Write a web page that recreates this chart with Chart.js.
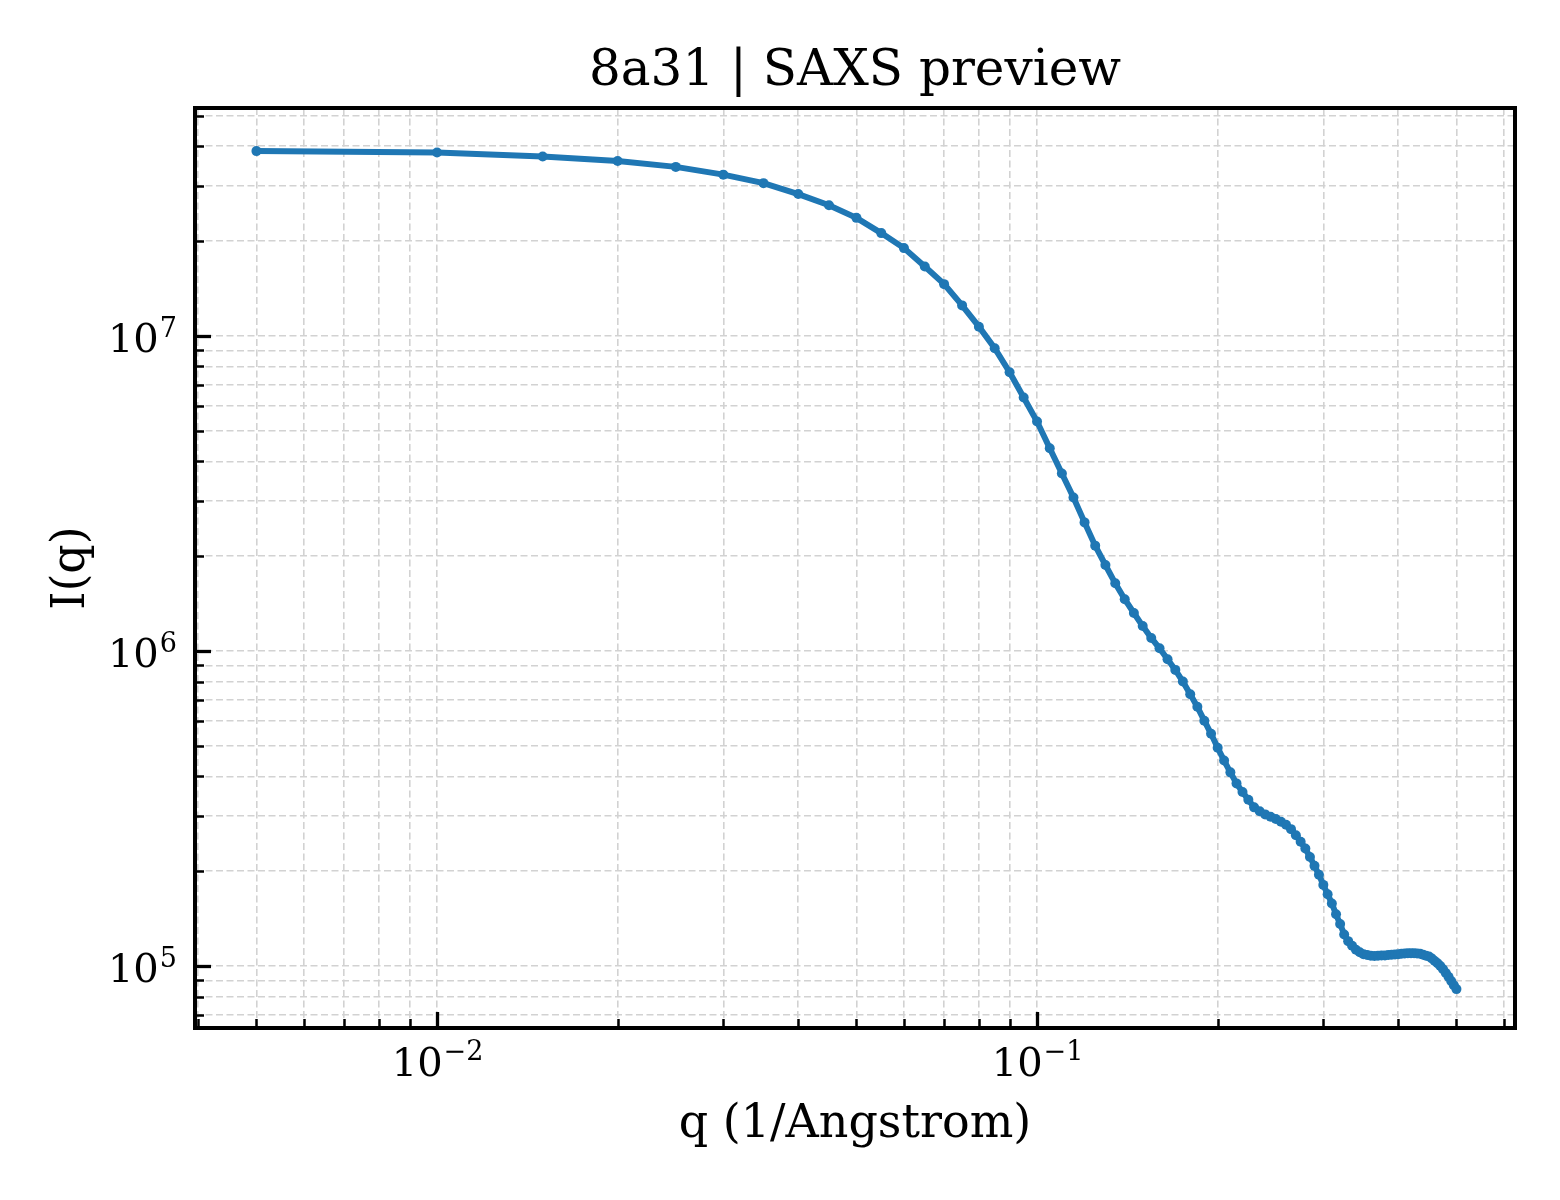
<!DOCTYPE html>
<html>
<head>
<meta charset="utf-8">
<script src="https://cdn.jsdelivr.net/npm/chart.js@4.4.0/dist/chart.umd.min.js"></script>
<style>
  html, body { margin: 0; padding: 0; background: #ffffff; }
  #wrap { width: 1560px; height: 1200px; }
</style>
</head>
<body>
<div id="wrap"><canvas id="c" width="1560" height="1200"></canvas></div>
<script>
// ---- data ----
const qValues = [
  0.005, 0.010, 0.015, 0.020, 0.025, 0.030, 0.035, 0.040, 0.045, 0.050,
  0.055, 0.060, 0.065, 0.070, 0.075, 0.080, 0.085, 0.090, 0.095, 0.100,
  0.105, 0.110, 0.115, 0.120, 0.125, 0.130, 0.135, 0.140, 0.145, 0.150,
  0.155, 0.160, 0.165, 0.170, 0.175, 0.180, 0.185, 0.190, 0.195, 0.200,
  0.205, 0.210, 0.215, 0.220, 0.225, 0.230, 0.235, 0.240, 0.245, 0.250,
  0.255, 0.260, 0.265, 0.270, 0.275, 0.280, 0.285, 0.290, 0.295, 0.300,
  0.305, 0.310, 0.315, 0.320, 0.325, 0.330, 0.335, 0.340, 0.345, 0.350,
  0.355, 0.360, 0.365, 0.370, 0.375, 0.380, 0.385, 0.390, 0.395, 0.400,
  0.405, 0.410, 0.415, 0.420, 0.425, 0.430, 0.435, 0.440, 0.445, 0.450,
  0.455, 0.460, 0.465, 0.470, 0.475, 0.480, 0.485, 0.490, 0.495, 0.500
];
const intensity = [
  3.86e7, 3.82e7, 3.71e7, 3.59e7, 3.44e7, 3.25e7, 3.055e7, 2.82e7, 2.60e7, 2.37e7,
  2.12e7, 1.90e7, 1.66e7, 1.46e7, 1.25e7, 1.07e7, 9.14e6, 7.67e6, 6.38e6, 5.35e6,
  4.40e6, 3.66e6, 3.07e6, 2.56e6, 2.16e6, 1.875e6, 1.64e6, 1.46e6, 1.32e6, 1.20e6,
  1.10e6, 1.02e6, 9.42e5, 8.71e5, 8.00e5, 7.29e5, 6.65e5, 6.01e5, 5.46e5, 4.93e5,
  4.49e5, 4.12e5, 3.80e5, 3.57e5, 3.37e5, 3.19e5, 3.10e5, 3.03e5, 2.98e5, 2.93e5,
  2.87e5, 2.81e5, 2.72e5, 2.60e5, 2.48e5, 2.36e5, 2.22e5, 2.08e5, 1.95e5, 1.81e5,
  1.69e5, 1.58e5, 1.46e5, 1.36e5, 1.26e5, 1.20e5, 1.16e5, 1.127e5, 1.107e5, 1.091e5,
  1.084e5, 1.079e5, 1.076e5, 1.079e5, 1.081e5, 1.081e5, 1.084e5, 1.086e5, 1.089e5, 1.091e5,
  1.094e5, 1.096e5, 1.099e5, 1.099e5, 1.099e5, 1.096e5, 1.094e5, 1.086e5, 1.079e5, 1.072e5,
  1.057e5, 1.038e5, 1.021e5, 1.000e5, 9.77e4, 9.51e4, 9.25e4, 8.97e4, 8.69e4, 8.45e4
];
const xMajorTicks = [0.01, 0.1];
const xMajorExponents = ['\u22122', '\u22121'];
const xMinorTicks = [0.004, 0.005, 0.006, 0.007, 0.008, 0.009,
                     0.02, 0.03, 0.04, 0.05, 0.06, 0.07, 0.08, 0.09,
                     0.2, 0.3, 0.4, 0.5, 0.6];
const yMajorTicks = [1e5, 1e6, 1e7];
const yMajorExponents = ['5', '6', '7'];
const yMinorTicks = [7e4, 8e4, 9e4,
                     2e5, 3e5, 4e5, 5e5, 6e5, 7e5, 8e5, 9e5,
                     2e6, 3e6, 4e6, 5e6, 6e6, 7e6, 8e6, 9e6,
                     2e7, 3e7, 4e7, 5e7];
const xRange = [0.00395, 0.626];
const yRange = [6.36e4, 5.29e7];
const titleText = '8a31 | SAXS preview';
const xTitle = 'q (1/Angstrom)';
const yTitle = 'I(q)';

// ---- styling ----
const FONT = '"DejaVu Serif", "Liberation Serif", serif';
const GRID_COLOR = '#d2d2d2';

const allX = xMinorTicks.concat(xMajorTicks).sort((a, b) => a - b);
const allY = yMinorTicks.concat(yMajorTicks).sort((a, b) => a - b);

const decorPlugin = {
  id: 'decor',
  afterDraw(chart) {
    const ctx = chart.ctx;
    const a = chart.chartArea;
    const xs = chart.scales.x, ys = chart.scales.y;
    ctx.save();
    ctx.strokeStyle = '#000';
    ctx.fillStyle = '#000';
    ctx.lineCap = 'butt';

    // inward ticks, left axis
    allY.forEach(v => {
      const y = Math.round(ys.getPixelForValue(v)) + 0.5;
      const major = yMajorTicks.includes(v);
      ctx.lineWidth = major ? 3.3 : 2.5;
      ctx.beginPath();
      ctx.moveTo(a.left, y);
      ctx.lineTo(a.left + (major ? 16 : 9), y);
      ctx.stroke();
    });
    // inward ticks, bottom axis
    allX.forEach(v => {
      const x = Math.round(xs.getPixelForValue(v)) + 0.5;
      const major = xMajorTicks.includes(v);
      ctx.lineWidth = major ? 3.3 : 2.5;
      ctx.beginPath();
      ctx.moveTo(x, a.bottom);
      ctx.lineTo(x, a.bottom - (major ? 16 : 9));
      ctx.stroke();
    });

    // frame
    ctx.lineWidth = 4;
    ctx.strokeRect(a.left, a.top, a.right - a.left, a.bottom - a.top);

    // tick labels
    const baseFont = '40px ' + FONT;
    const expFont = '27px ' + FONT;
    ctx.textBaseline = 'alphabetic';
    xMajorTicks.forEach((v, i) => {
      const x = xs.getPixelForValue(v);
      ctx.font = baseFont; const w1 = ctx.measureText('10').width;
      ctx.font = expFont; const w2 = ctx.measureText(xMajorExponents[i]).width;
      const left = x - (w1 + w2) / 2;
      ctx.textAlign = 'left';
      ctx.font = baseFont; ctx.fillText('10', left, a.bottom + 48);
      ctx.font = expFont; ctx.fillText(xMajorExponents[i], left + w1 + 1, a.bottom + 32);
    });
    yMajorTicks.forEach((v, i) => {
      const y = ys.getPixelForValue(v);
      ctx.font = expFont; const w2 = ctx.measureText(yMajorExponents[i]).width;
      ctx.font = baseFont; const w1 = ctx.measureText('10').width;
      const right = a.left - 18;
      ctx.textAlign = 'left';
      ctx.font = baseFont; ctx.fillText('10', right - w2 - w1 - 1, y + 16);
      ctx.font = expFont; ctx.fillText(yMajorExponents[i], right - w2, y + 1);
    });

    // axis titles
    ctx.font = '46px ' + FONT;
    ctx.textAlign = 'center';
    ctx.fillText(xTitle, (a.left + a.right) / 2, 1137);
    ctx.save();
    ctx.translate(84, (a.top + a.bottom) / 2);
    ctx.rotate(-Math.PI / 2);
    ctx.fillText(yTitle, 0, 0);
    ctx.restore();

    // title
    ctx.font = '50px ' + FONT;
    ctx.fillText(titleText, (a.left + a.right) / 2, 85);
    ctx.restore();
  }
};

new Chart(document.getElementById('c'), {
  type: 'line',
  data: {
    datasets: [{
      data: qValues.map((q, i) => ({ x: q, y: intensity[i] })),
      borderColor: '#1f77b4',
      backgroundColor: '#1f77b4',
      borderWidth: 6,
      pointRadius: 5,
      pointBorderWidth: 0,
      pointBackgroundColor: '#1f77b4',
      tension: 0,
      fill: false
    }]
  },
  options: {
    responsive: false,
    animation: false,
    devicePixelRatio: 1,
    layout: { padding: { left: 0, top: 108, right: 45, bottom: 0 } },
    plugins: { legend: { display: false }, title: { display: false }, tooltip: { enabled: false } },
    scales: {
      x: {
        type: 'logarithmic',
        position: 'bottom',
        min: xRange[0], max: xRange[1],
        afterBuildTicks: s => { s.ticks = allX.map(v => ({ value: v })); },
        afterFit: s => { s.height = 172; },
        ticks: { display: false },
        grid: { color: GRID_COLOR, lineWidth: 1.6, drawTicks: false },
        border: { display: false, dash: [7, 3.5] }
      },
      y: {
        type: 'logarithmic',
        position: 'left',
        min: yRange[0], max: yRange[1],
        afterBuildTicks: s => { s.ticks = allY.map(v => ({ value: v })); },
        afterFit: s => { s.width = 195; },
        ticks: { display: false },
        grid: { color: GRID_COLOR, lineWidth: 1.6, drawTicks: false },
        border: { display: false, dash: [7, 3.5] }
      }
    }
  },
  plugins: [decorPlugin]
});
</script>
</body>
</html>
